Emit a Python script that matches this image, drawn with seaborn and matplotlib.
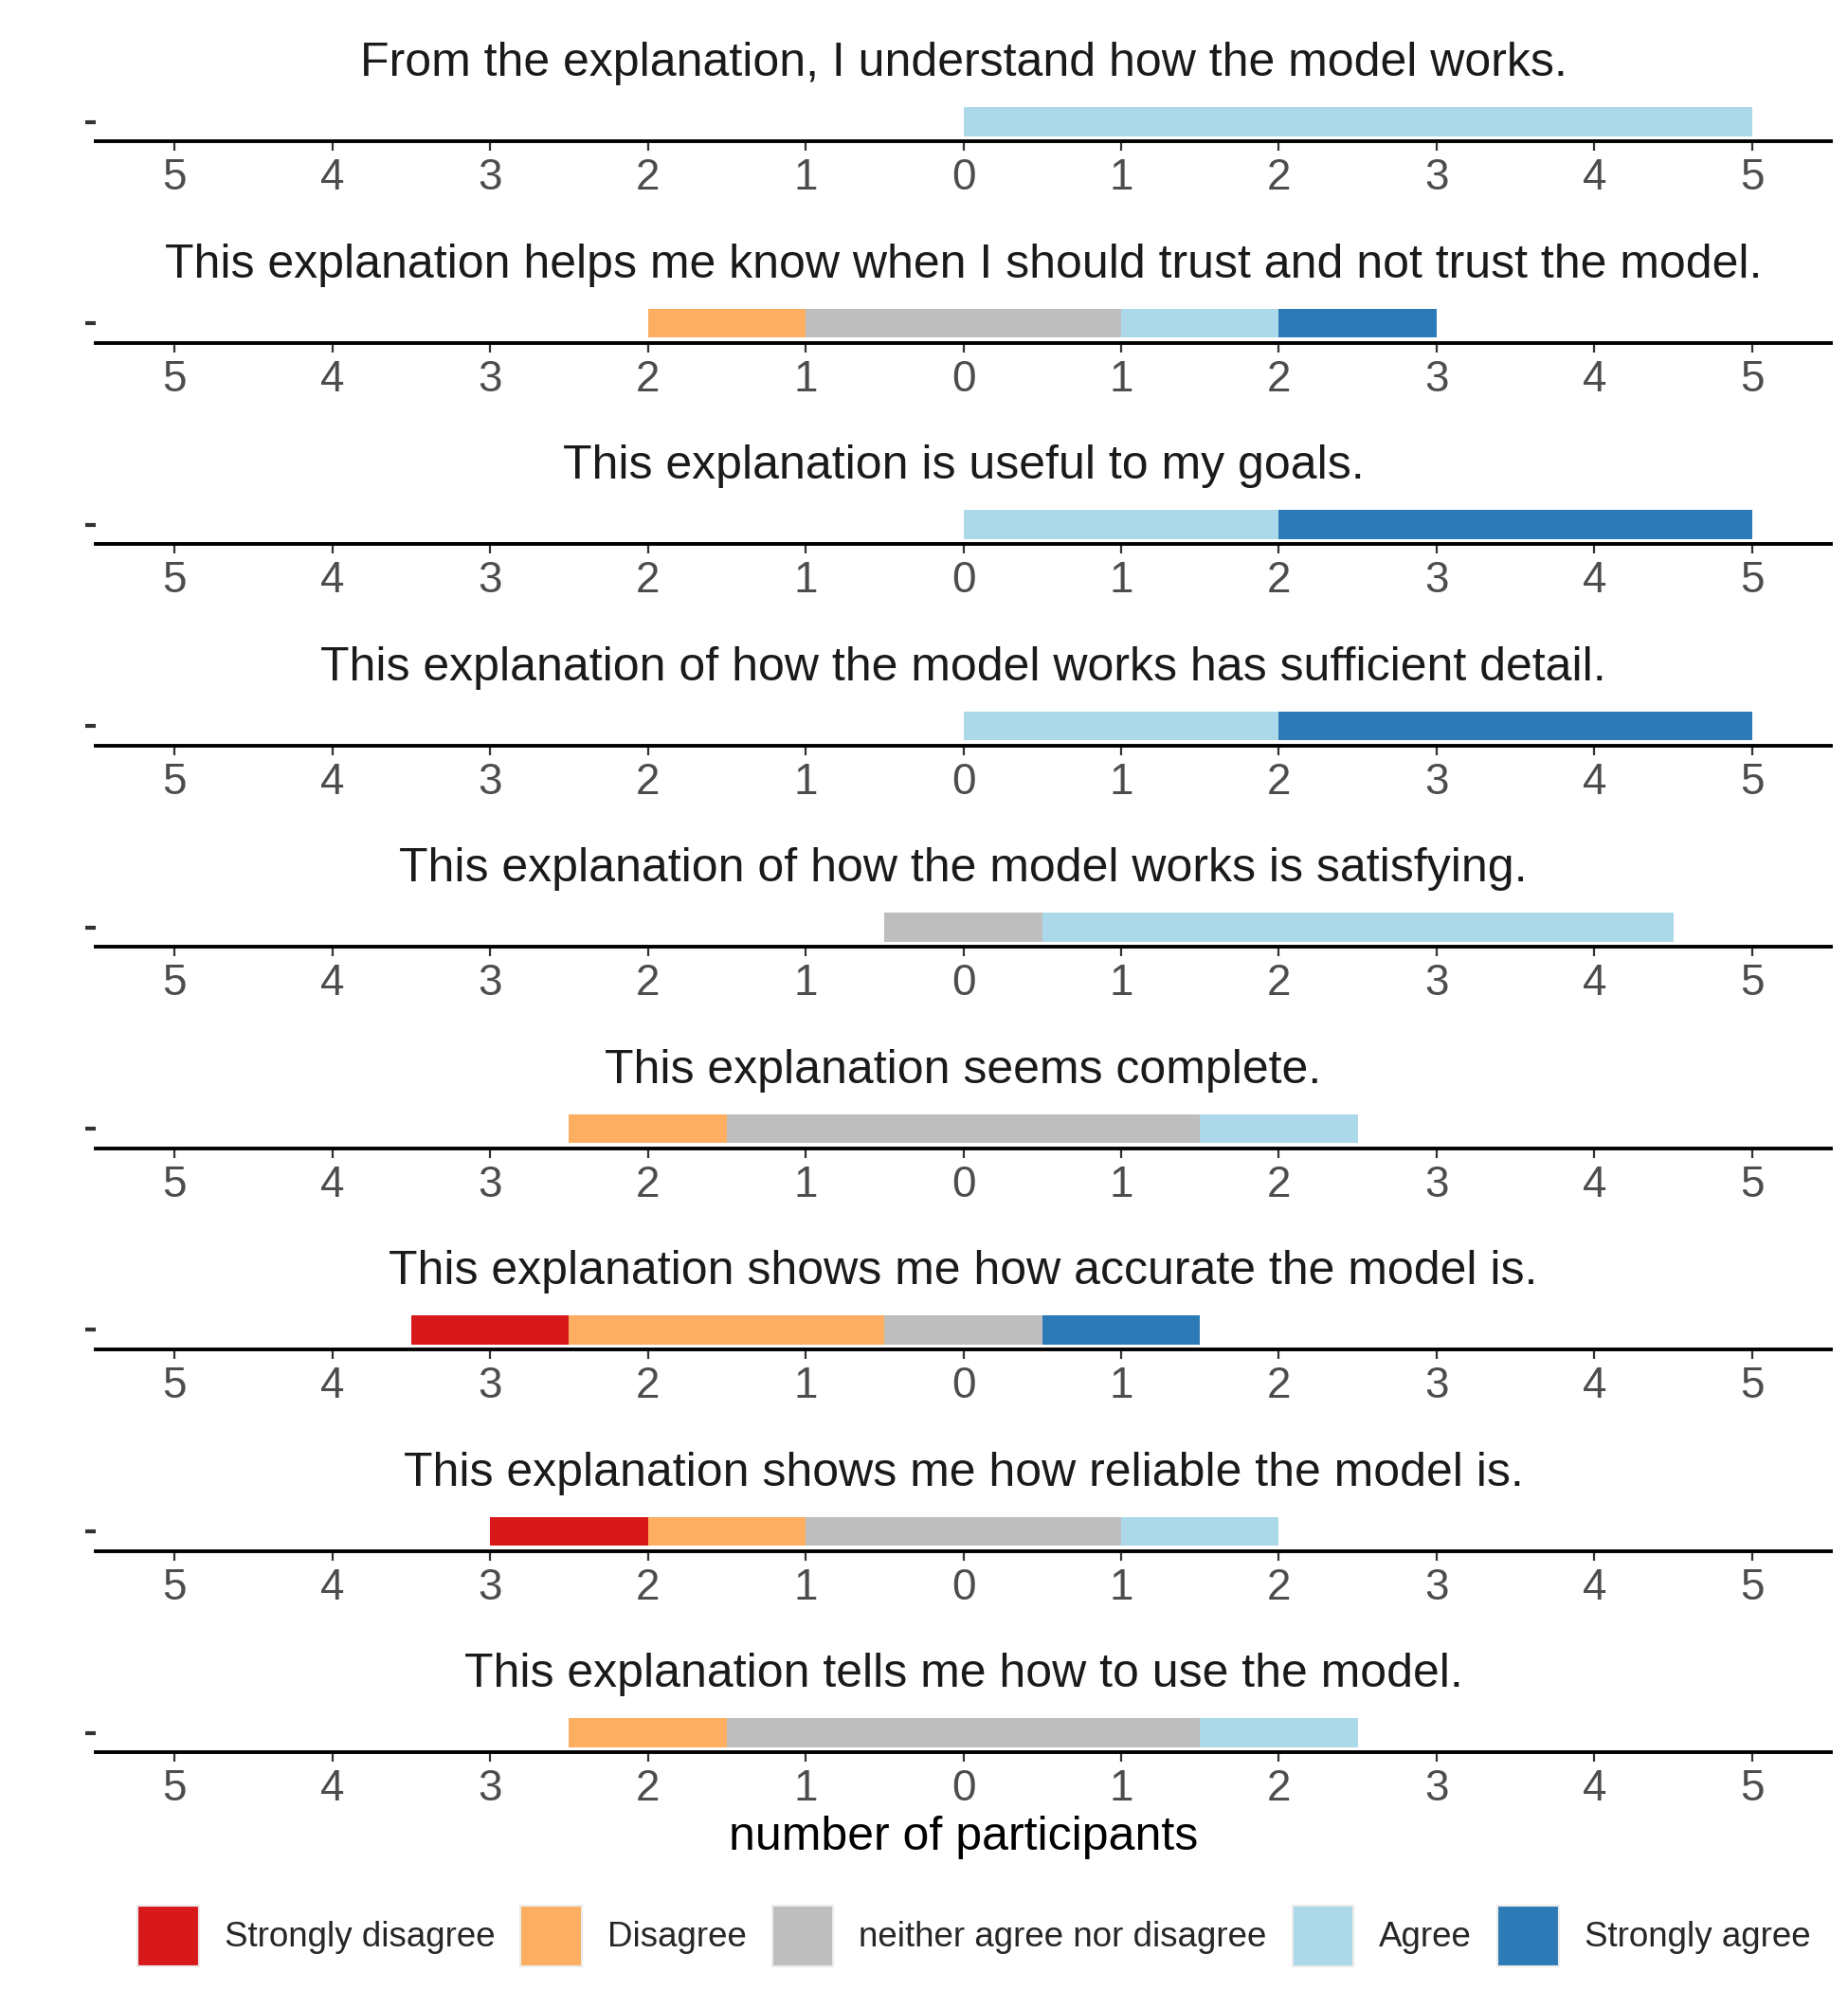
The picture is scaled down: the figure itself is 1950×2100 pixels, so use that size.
import matplotlib
matplotlib.use("Agg")
import matplotlib.pyplot as plt
import seaborn as sns
import numpy as np
from matplotlib.patches import Patch

questions = [
    "From the explanation, I understand how the model works.",
    "This explanation helps me know when I should trust and not trust the model.",
    "This explanation is useful to my goals.",
    "This explanation of how the model works has sufficient detail.",
    "This explanation of how the model works is satisfying.",
    "This explanation seems complete.",
    "This explanation shows me how accurate the model is.",
    "This explanation shows me how reliable the model is.",
    "This explanation tells me how to use the model.",
]
levels = ["Strongly disagree", "Disagree", "neither agree nor disagree",
          "Agree", "Strongly agree"]
strongly_disagree = [0, 0, 0, 0, 0, 0, 1, 1, 0]
disagree = [0, 1, 0, 0, 0, 1, 2, 1, 1]
neutral = [0, 2, 0, 0, 1, 3, 1, 2, 3]
agree = [5, 1, 2, 2, 4, 1, 0, 1, 1]
strongly_agree = [0, 1, 3, 3, 0, 0, 1, 0, 0]
tick_values = [-5, -4, -3, -2, -1, 0, 1, 2, 3, 4, 5]

colors = ["#d7191c", "#fdae61", "#bebebe", "#abd9e9", "#2c7bb6"]

sns.set_theme(style="white")
plt.rcParams['font.family'] = ['Liberation Sans', 'DejaVu Sans']

W, H = 1950, 2100
fig = plt.figure(figsize=(W / 100, H / 100), dpi=100)

ax_left, ax_right = 101, 1932
first_axis_y, step, ax_h = 149, 212.5, 41

counts = np.array([strongly_disagree, disagree, neutral, agree, strongly_agree], dtype=float)

for i, q in enumerate(questions):
    bottom_px = first_axis_y + i * step
    ax = fig.add_axes([ax_left / W, 1 - bottom_px / H, (ax_right - ax_left) / W, ax_h / H])
    start = -(counts[0, i] + counts[1, i] + counts[2, i] / 2)
    left = start
    for k in range(len(levels)):
        w = counts[k, i]
        if w > 0:
            ax.barh(1, w, left=left, height=0.9, color=colors[k], linewidth=0)
        left += w
    ax.set_xlim(-5.5, 5.5)
    ax.set_ylim(0.4, 1.6)
    ax.set_xticks(tick_values)
    ax.set_xticklabels([str(abs(v)) for v in tick_values])
    ax.set_yticks([1])
    ax.set_yticklabels([""])
    for s in ["top", "right", "left"]:
        ax.spines[s].set_visible(False)
    ax.spines["bottom"].set_color("black")
    ax.spines["bottom"].set_linewidth(2.8)
    ax.tick_params(axis="x", direction="out", length=7, width=1.6, color="#333333",
                   labelsize=33, labelcolor="#4d4d4d", pad=5.5, bottom=True)
    ax.tick_params(axis="y", direction="out", length=8, width=3, color="#333333",
                   left=True, pad=2)
    ax.set_facecolor("white")
    ax.annotate(q, xy=(0.5, 1), xycoords="axes fraction", xytext=(0, 29.5),
                textcoords="offset points", ha="center", va="center",
                fontsize=36, color="#1a1a1a")
    if i == len(questions) - 1:
        ax.set_xlabel("number of participants", fontsize=36, color="black", labelpad=4)

handles = [Patch(facecolor=c, edgecolor="#ebebeb", linewidth=1.5, label=l)
           for c, l in zip(colors, levels)]
fig.legend(handles=handles, loc="center", bbox_to_anchor=(0.527, 1 - 2043 / H),
           ncol=5, frameon=False, fontsize=26.5, handlelength=1.76, handleheight=2.33,
           handletextpad=0.73, columnspacing=0.73)

fig.savefig("out.png", dpi=100, facecolor="white")
